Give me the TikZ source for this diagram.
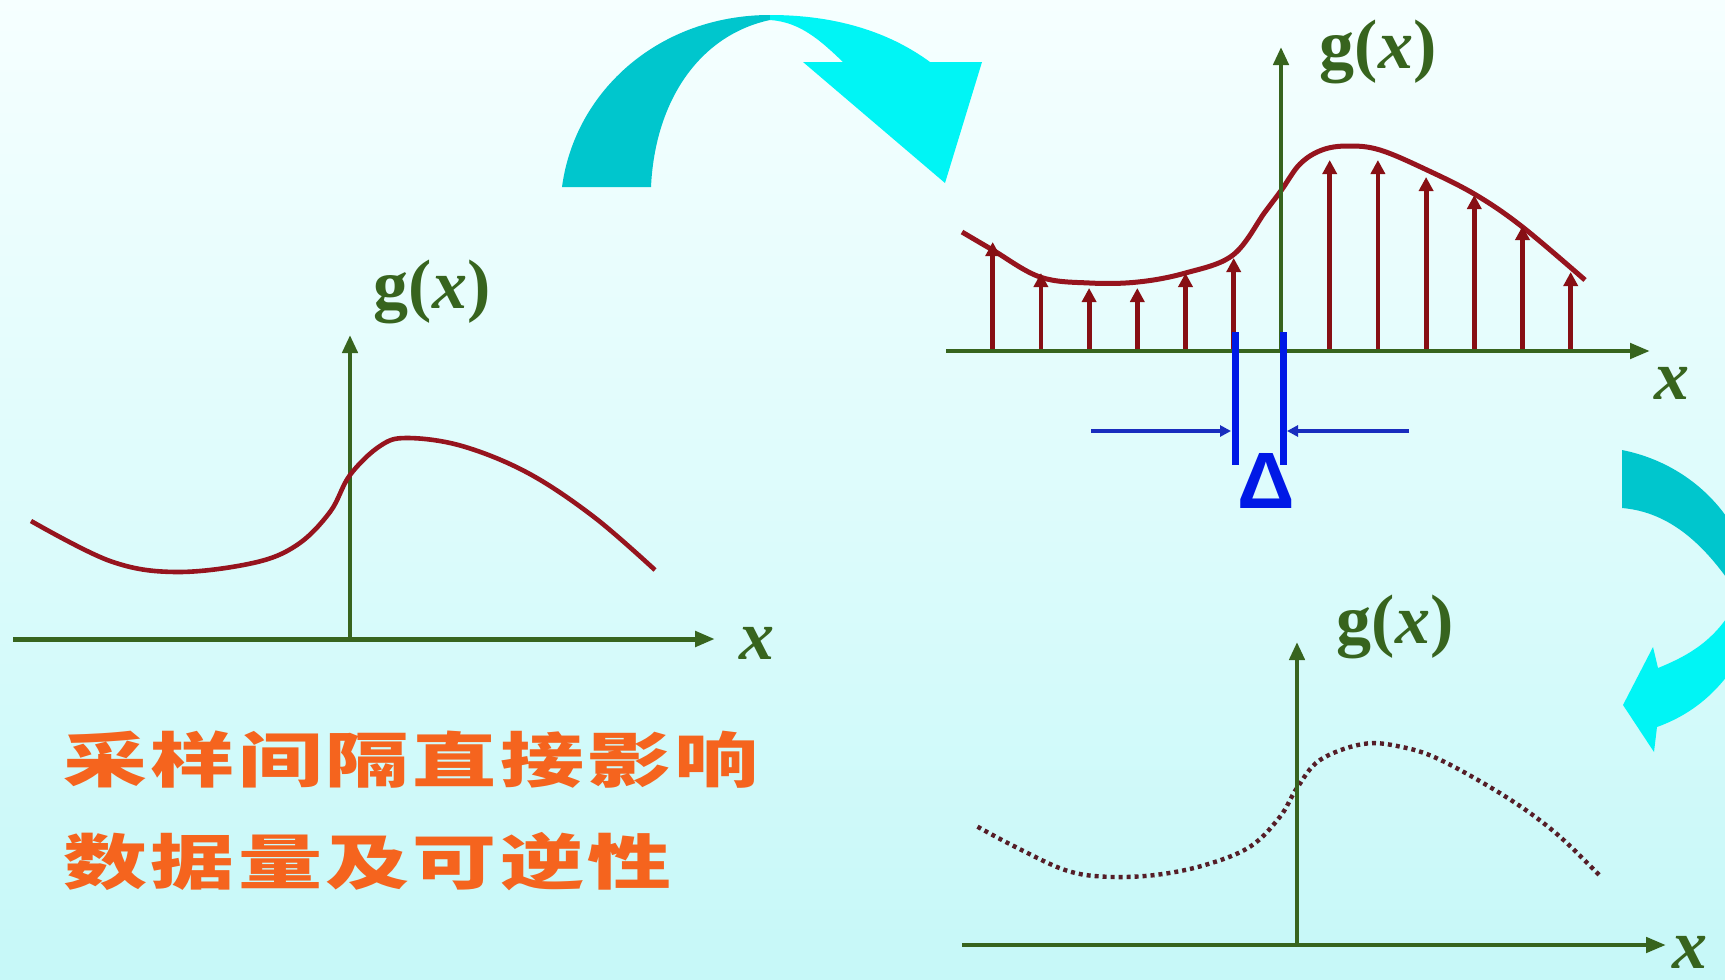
\documentclass[tikz,border=0pt]{standalone}
\usepackage{graphicx}
\usepackage{fontspec}
\setmainfont{Liberation Serif}
\newfontfamily\cjkfont{Noto Sans CJK SC}[LetterSpace=4]
\newfontfamily\deltafont{Liberation Sans}
\usetikzlibrary{arrows.meta}
\definecolor{bgtop}{RGB}{246,255,255}
\definecolor{bgbot}{RGB}{198,248,248}
\definecolor{axisgreen}{RGB}{55,100,30}
\definecolor{curvered}{RGB}{150,20,30}
\definecolor{stemred}{RGB}{135,15,20}
\definecolor{dotcol}{RGB}{85,30,40}
\definecolor{barblue}{RGB}{0,25,230}
\definecolor{lineblue}{RGB}{25,45,190}
\definecolor{tealdark}{RGB}{0,198,205}
\definecolor{cyanbright}{RGB}{0,245,245}
\definecolor{textorange}{RGB}{245,100,30}
\tikzset{
  axis/.style={draw=axisgreen, line width=2.5pt, -{Triangle[length=10pt,width=7.5pt]}},
  yaxis/.style={draw=axisgreen, line width=2.2pt, -{Triangle[length=9pt,width=7.5pt]}},
  curve/.style={draw=curvered, line width=2.3pt},
  dotcurve/.style={draw=dotcol, line width=2.2pt, dash pattern=on 2pt off 2pt},
  stem/.style={draw=stemred, line width=2.4pt, -{Triangle[length=7pt,width=7pt]}},
  bar/.style={draw=barblue, line width=3.5pt},
  dimarrow/.style={draw=lineblue, line width=1.6pt, -{Triangle[length=5.5pt,width=5.5pt]}},
  glabel/.style={text=axisgreen, font=\fontsize{35pt}{40pt}\selectfont\bfseries, inner sep=0pt},
  xlabel/.style={text=axisgreen, font=\fontsize{35pt}{40pt}\selectfont\bfseries\itshape, inner sep=0pt},
  cjktext/.style={text=textorange, font=\fontsize{30pt}{34pt}\selectfont\cjkfont\bfseries, inner sep=0pt, anchor=west},
}
\begin{document}
\begin{tikzpicture}[x=0.5pt,y=-0.5pt]
\useasboundingbox (0,0) rectangle (1725,980);
\clip (0,0) rectangle (1725,980);
\shade[top color=bgtop, bottom color=bgbot] (0,0) rectangle (1725,980);

% ---------- left plot ----------
\coordinate (Lxs) at (13,639);
\coordinate (Lxe) at (715,639);
\coordinate (Lyo) at (350,639);
\coordinate (Lye) at (350,335);
\draw[axis] (Lxs) -- (Lxe);
\draw[yaxis] (Lyo) -- (Lye);
\node[glabel] (Lg) at (432,292) {g(\textit{x})};
\node[xlabel] (Lx) at (757,643) {x};
\draw[curve] plot[smooth, tension=0.6] coordinates {(31,521) (110,561) (176,572) (253,563) (297,545) (330,512) (350,475) (380,446) (407,438) (462,446) (528,473) (594,517) (655,570)};

% ---------- top right plot ----------
\coordinate (Txs) at (946,351);
\coordinate (Txe) at (1650,351);
\coordinate (Tyo) at (1281,351);
\coordinate (Tye) at (1281,47);
\draw[curve, line width=2.5pt] plot[smooth, tension=0.6] coordinates {(962,232) (992.7,250) (1040,277) (1089.5,283) (1138,282) (1185.5,273) (1233,255) (1265,212) (1281.5,190) (1300,164) (1322,150) (1348,146) (1380,150) (1427,170) (1476,195) (1522.5,227) (1585,280)};
\foreach \xs/\yt in {992.7/242, 1040.9/273, 1089.1/288, 1137.3/288, 1185.5/273, 1233.7/258, 1329.7/160, 1377.9/160, 1426.1/177, 1474.3/195, 1522.5/226, 1570.7/272}
  \draw[stem] (\xs,351) -- (\xs,\yt);
\draw[axis, line width=2.3pt] (Txs) -- (Txe);
\draw[yaxis] (Tyo) -- (Tye);
\node[glabel] (Tg) at (1378,52) {g(\textit{x})};
\node[xlabel] (Tx) at (1672,383) {x};
\coordinate (B1t) at (1235,332);
\coordinate (B1b) at (1235,465);
\coordinate (B2t) at (1283,332);
\coordinate (B2b) at (1283,465);
\draw[bar] (B1t) -- (B1b);
\draw[bar] (B2t) -- (B2b);
\coordinate (Al) at (1091,431);
\coordinate (Ar) at (1409,431);
\draw[dimarrow] (Al) -- (1231,431);
\draw[dimarrow] (Ar) -- (1287,431);
\node[text=barblue, font=\fontsize{40pt}{44pt}\selectfont\deltafont\bfseries, inner sep=0pt] (D) at (1266,481) {Δ};

% ---------- bottom right plot ----------
\coordinate (Bxs) at (962,945);
\coordinate (Bxe) at (1666,945);
\coordinate (Byo) at (1297,945);
\coordinate (Bye) at (1297,642);
\draw[dotcurve] plot[smooth, tension=0.6] coordinates {(977.5,826.7) (1015,846.7) (1065,870) (1105,876.7) (1155,875) (1205,865) (1250,846.7) (1280,816.7) (1297,788) (1320,760) (1363,744) (1400.5,746.7) (1440.6,760) (1505.7,796.7) (1555.7,833) (1600.8,876.7)};
\draw[axis, line width=2.3pt] (Bxs) -- (Bxe);
\draw[yaxis] (Byo) -- (Bye);
\node[glabel] (Bg) at (1395,627) {g(\textit{x})};
\node[xlabel] (Bx) at (1690,952) {x};

% ---------- top cyan arrow ----------
\fill[tealdark] (562,187) .. controls (575,90) and (660,15) .. (770,15)
  -- (770,20) .. controls (700,35) and (655,100) .. (651,187) -- cycle;
\fill[cyanbright] (770,15) .. controls (850,15) and (900,40) .. (930,62)
  -- (982,62) -- (945,183) -- (803,62) -- (843,62)
  .. controls (820,40) and (800,22) .. (770,20) -- cycle;

% ---------- right cyan arrow ----------
\fill[tealdark] (1622,450) .. controls (1672,460) and (1712,490) .. (1735,530)
  -- (1735,590) .. controls (1705,545) and (1670,512) .. (1622,508) -- cycle;
\fill[cyanbright] (1735,605) .. controls (1715,640) and (1690,655) .. (1658,668)
  -- (1653,647) -- (1623,705) -- (1654,752) -- (1657,727)
  .. controls (1690,715) and (1715,695) .. (1735,665) -- cycle;

% ---------- text ----------
\node[cjktext] (T1) at (63,760) {\scalebox{1.4}[1]{采样间隔直接影响}};
\node[cjktext] (T2) at (63,862) {\scalebox{1.4}[1]{数据量及可逆性}};
\end{tikzpicture}
\end{document}
